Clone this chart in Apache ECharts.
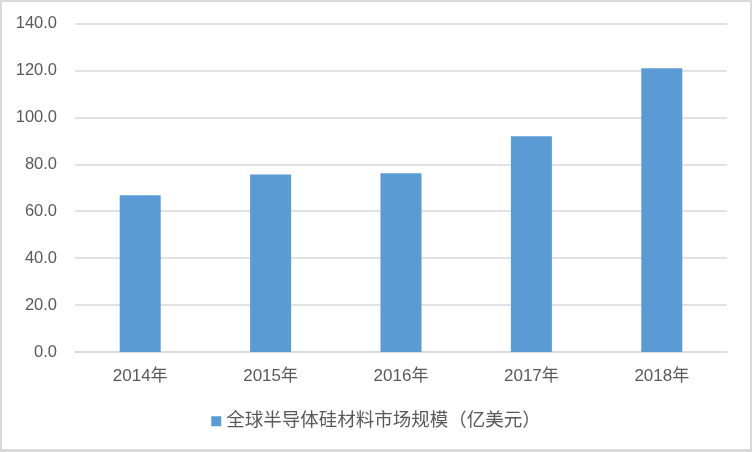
<!DOCTYPE html>
<html>
<head>
<meta charset="utf-8">
<script src="https://cdn.jsdelivr.net/npm/echarts@6/dist/echarts.min.js"></script>
<style>
html,body{margin:0;padding:0;background:#fff;}
#wrap{position:relative;width:752px;height:452px;}
#chart{position:absolute;left:0;top:0;width:752px;height:452px;}
#frame{position:absolute;left:0;top:0;width:752px;height:452px;box-sizing:border-box;border:2px solid #d9d9d9;border-bottom-width:3px;pointer-events:none;}
</style>
</head>
<body>
<div id="wrap"><div id="chart"></div><div id="frame"></div></div>
<script>
const categories = ['2014年', '2015年', '2016年', '2017年', '2018年'];
const seriesName = '全球半导体硅材料市场规模（亿美元）';
const values = [66.8, 75.7, 76.2, 91.9, 120.9];
const yMin = 0, yMax = 140, yInterval = 20;

const font = '"Liberation Sans", "Noto Sans CJK SC", sans-serif';
const chart = echarts.init(document.getElementById('chart'), null, {renderer: 'canvas'});
chart.setOption({
  animation: false,
  backgroundColor: '#fff',
  textStyle: {fontFamily: font},
  grid: {left: 75, right: 25, top: 23.5, bottom: 100, containLabel: false},
  legend: {
    data: [seriesName],
    top: 407,
    left: 'center',
    icon: 'rect',
    itemWidth: 10,
    itemHeight: 10,
    itemGap: 6,
    textStyle: {color: '#595959', fontSize: 18.5, fontFamily: font}
  },
  xAxis: {
    type: 'category',
    data: categories,
    axisLine: {lineStyle: {color: '#d9d9d9', width: 1.5}},
    axisTick: {show: false},
    axisLabel: {color: '#595959', fontSize: 17, margin: 16, fontFamily: font}
  },
  yAxis: {
    type: 'value',
    min: yMin,
    max: yMax,
    interval: yInterval,
    axisLine: {show: false},
    axisTick: {show: false},
    splitLine: {lineStyle: {color: '#d9d9d9', width: 1.5}},
    axisLabel: {color: '#595959', fontSize: 16.5, margin: 18, fontFamily: font,
      formatter: v => v.toFixed(1)}
  },
  series: [{
    name: seriesName,
    type: 'bar',
    data: values,
    barWidth: 41,
    itemStyle: {color: '#5b9bd5'}
  }]
});
</script>
</body>
</html>
